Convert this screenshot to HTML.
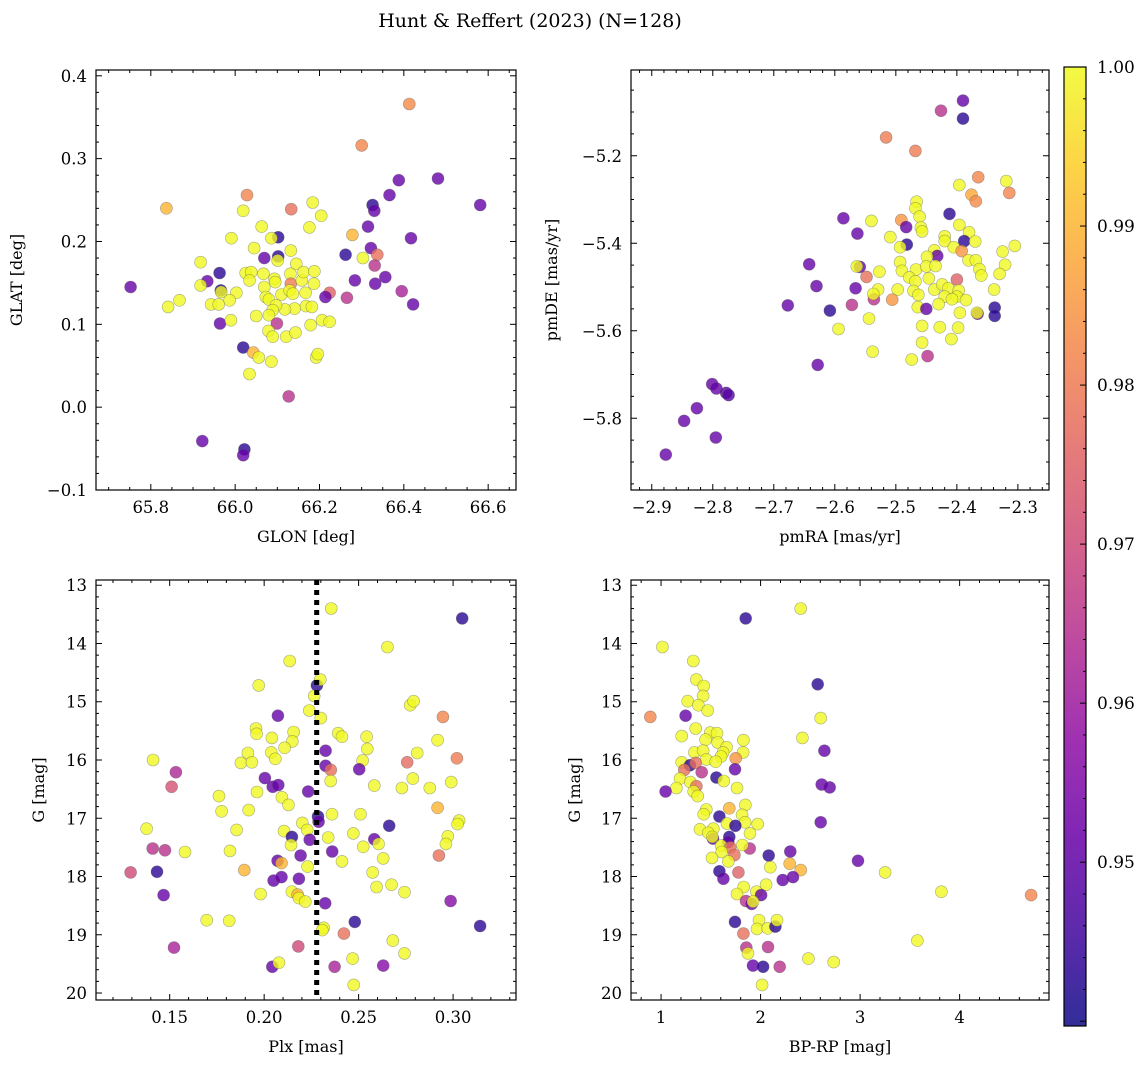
<!DOCTYPE html>
<html><head><meta charset="utf-8">
<style>
body{margin:0;background:#fff;}
svg{display:block;font-family:"DejaVu Serif","Liberation Serif",serif;}
</style></head>
<body>
<svg id="fig" width="1148" height="1067" viewBox="0 0 1148 1067" xmlns="http://www.w3.org/2000/svg">
<rect width="1148" height="1067" fill="#fff"/>
<text x="530" y="27" font-size="19" text-anchor="middle">Hunt &amp; Reffert (2023) (N=128)</text>
</svg>
<script>
// ---------- data: [x, y, membership probability] ----------
const p1 = [[66.413,0.366,.983],[66.30,0.316,.982],[66.388,0.274,.951],[66.481,0.276,.951],[66.366,0.256,.951],[66.581,0.244,.951],[66.326,0.244,.943],[66.330,0.237,.951],[66.028,0.256,.982],[65.837,0.240,.99],[66.133,0.239,.978],[66.184,0.247,1],[66.204,0.231,1],[66.019,0.237,1],[66.176,0.217,1],[66.063,0.218,1],[66.315,0.218,.951],[66.278,0.208,.99],[66.417,0.204,.951],[65.991,0.204,1],[66.102,0.205,.943],[66.086,0.204,1],[66.045,0.192,1],[66.132,0.189,1],[66.322,0.192,.951],[66.262,0.184,.943],[66.337,0.184,.978],[66.303,0.180,1],[66.331,0.171,.965],[66.069,0.180,.951],[66.102,0.182,.943],[66.101,0.177,1],[65.918,0.175,1],[66.145,0.173,1],[65.963,0.162,.943],[65.934,0.152,.951],[65.918,0.147,1],[65.752,0.145,.951],[66.025,0.162,1],[66.038,0.163,1],[66.034,0.153,1],[66.067,0.161,1],[66.093,0.155,1],[66.095,0.151,1],[66.131,0.161,1],[66.132,0.149,.98],[66.158,0.153,1],[66.162,0.163,1],[66.188,0.164,1],[66.187,0.149,1],[65.966,0.141,.943],[65.967,0.139,1],[66.003,0.138,1],[65.868,0.129,1],[65.841,0.121,1],[65.943,0.124,1],[65.961,0.124,1],[65.987,0.129,1],[66.069,0.145,1],[66.073,0.133,1],[66.080,0.130,1],[66.110,0.136,1],[66.129,0.141,1],[66.137,0.137,1],[66.167,0.138,1],[66.168,0.122,1],[66.182,0.121,1],[66.141,0.119,1],[66.118,0.118,1],[66.097,0.123,1],[66.089,0.117,1],[66.080,0.111,1],[66.050,0.110,1],[66.224,0.138,.975],[66.214,0.133,.951],[66.265,0.132,.965],[66.284,0.153,.951],[66.332,0.149,.951],[66.356,0.157,.951],[66.395,0.140,.962],[66.422,0.124,.951],[65.964,0.101,.951],[65.990,0.105,1],[66.099,0.101,.965],[66.079,0.092,1],[66.089,0.085,1],[66.121,0.085,1],[66.143,0.090,1],[66.179,0.099,1],[66.206,0.105,1],[66.224,0.103,1],[66.019,0.072,.943],[66.043,0.066,.99],[66.056,0.060,1],[66.086,0.055,1],[66.192,0.060,1],[66.196,0.064,1],[66.034,0.040,1],[66.127,0.013,.965],[65.922,-0.041,.951],[66.022,-0.051,.943],[66.019,-0.058,.951]];
const p2 = [[-2.390,-5.074,.951],[-2.426,-5.097,.965],[-2.390,-5.115,.943],[-2.516,-5.158,.98],[-2.468,-5.189,.98],[-2.365,-5.249,.982],[-2.319,-5.258,1],[-2.314,-5.285,.982],[-2.396,-5.267,1],[-2.376,-5.289,.988],[-2.369,-5.304,.983],[-2.466,-5.305,1],[-2.468,-5.320,1],[-2.461,-5.339,1],[-2.412,-5.333,.943],[-2.586,-5.343,.951],[-2.540,-5.349,1],[-2.491,-5.347,.985],[-2.483,-5.363,.951],[-2.459,-5.364,1],[-2.457,-5.373,1],[-2.396,-5.358,1],[-2.380,-5.375,1],[-2.563,-5.378,.951],[-2.509,-5.386,1],[-2.420,-5.384,1],[-2.420,-5.395,1],[-2.388,-5.395,.943],[-2.370,-5.396,1],[-2.305,-5.406,1],[-2.482,-5.403,.943],[-2.493,-5.409,1],[-2.405,-5.409,1],[-2.392,-5.418,.985],[-2.437,-5.416,1],[-2.432,-5.429,.951],[-2.449,-5.431,1],[-2.325,-5.419,1],[-2.381,-5.439,1],[-2.369,-5.439,1],[-2.321,-5.449,1],[-2.642,-5.448,.951],[-2.493,-5.443,1],[-2.490,-5.463,1],[-2.467,-5.460,1],[-2.450,-5.453,1],[-2.435,-5.452,1],[-2.559,-5.454,.951],[-2.564,-5.453,1],[-2.527,-5.465,1],[-2.363,-5.459,1],[-2.360,-5.474,1],[-2.330,-5.470,1],[-2.548,-5.477,.978],[-2.478,-5.478,1],[-2.468,-5.487,1],[-2.446,-5.480,1],[-2.400,-5.483,.975],[-2.630,-5.498,.951],[-2.566,-5.503,.951],[-2.529,-5.506,1],[-2.497,-5.506,1],[-2.471,-5.509,1],[-2.463,-5.518,1],[-2.437,-5.506,1],[-2.424,-5.494,1],[-2.414,-5.503,1],[-2.420,-5.522,1],[-2.397,-5.508,1],[-2.400,-5.522,1],[-2.339,-5.506,1],[-2.677,-5.542,.951],[-2.608,-5.554,.943],[-2.572,-5.541,.965],[-2.536,-5.528,.965],[-2.537,-5.516,1],[-2.506,-5.529,.985],[-2.464,-5.546,1],[-2.450,-5.550,.951],[-2.430,-5.539,1],[-2.408,-5.528,1],[-2.385,-5.530,1],[-2.395,-5.559,1],[-2.366,-5.561,.951],[-2.367,-5.559,1],[-2.338,-5.547,.943],[-2.338,-5.566,.943],[-2.594,-5.596,1],[-2.544,-5.572,1],[-2.457,-5.589,1],[-2.428,-5.592,1],[-2.398,-5.593,1],[-2.457,-5.627,1],[-2.409,-5.619,1],[-2.538,-5.648,1],[-2.474,-5.666,1],[-2.448,-5.658,.965],[-2.628,-5.678,.951],[-2.801,-5.722,.951],[-2.794,-5.732,.951],[-2.778,-5.742,.949],[-2.774,-5.747,.949],[-2.826,-5.777,.951],[-2.847,-5.806,.951],[-2.795,-5.844,.951],[-2.877,-5.883,.951]];
const p3 = [[0.2355,13.40,1],[0.3048,13.57,.943],[0.2653,14.06,1],[0.2135,14.30,1],[0.1971,14.72,1],[0.2279,14.72,.943],[0.2297,14.62,1],[0.2265,14.90,1],[0.2239,15.15,1],[0.2300,15.28,1],[0.2073,15.24,.951],[0.2773,15.06,1],[0.2791,14.99,1],[0.2946,15.26,.982],[0.1957,15.46,1],[0.1960,15.55,1],[0.2041,15.62,1],[0.2156,15.52,1],[0.2149,15.68,1],[0.2108,15.79,1],[0.2392,15.54,1],[0.2412,15.60,1],[0.2542,15.60,1],[0.2546,15.81,1],[0.2918,15.66,1],[0.3020,15.97,.98],[0.2810,15.88,1],[0.2325,15.84,.951],[0.1914,15.88,1],[0.2038,15.87,1],[0.2059,15.98,1],[0.1877,16.05,1],[0.1935,16.04,1],[0.1412,16.00,1],[0.2521,16.01,1],[0.2757,16.04,.977],[0.2325,16.10,.951],[0.2353,16.17,.978],[0.2503,16.16,.951],[0.1533,16.21,.963],[0.1510,16.46,.972],[0.2004,16.31,.951],[0.2045,16.46,.951],[0.2075,16.43,.951],[0.2352,16.36,1],[0.2583,16.44,1],[0.2729,16.48,1],[0.2787,16.32,1],[0.2877,16.48,1],[0.2990,16.38,1],[0.2233,16.54,.951],[0.1962,16.55,1],[0.2094,16.64,1],[0.2129,16.77,1],[0.1761,16.62,1],[0.1775,16.88,1],[0.1918,16.86,1],[0.2918,16.82,.99],[0.2285,16.97,.943],[0.2288,17.06,.951],[0.2359,16.93,1],[0.2510,16.93,1],[0.2202,17.08,1],[0.2228,17.20,1],[0.2662,17.13,.943],[0.3032,17.04,1],[0.3024,17.10,1],[0.1378,17.18,1],[0.1854,17.20,1],[0.2105,17.22,1],[0.2147,17.32,.943],[0.2241,17.37,.951],[0.2339,17.33,1],[0.2472,17.26,1],[0.2583,17.36,.951],[0.2606,17.44,1],[0.2524,17.49,1],[0.2972,17.31,1],[0.2962,17.44,1],[0.1410,17.52,.965],[0.1475,17.55,.965],[0.1581,17.58,1],[0.1819,17.56,1],[0.2142,17.46,1],[0.2193,17.64,.951],[0.2360,17.57,.951],[0.2412,17.74,1],[0.2630,17.69,1],[0.2925,17.64,.978],[0.2071,17.73,.951],[0.2092,17.77,.99],[0.2230,17.83,1],[0.1293,17.93,.97],[0.1433,17.92,.943],[0.1895,17.89,.99],[0.2050,18.07,.951],[0.2092,18.01,.951],[0.2184,18.04,.951],[0.2574,17.93,1],[0.2595,18.18,1],[0.2674,18.14,1],[0.2743,18.27,1],[0.1468,18.32,.951],[0.1981,18.30,1],[0.2147,18.26,1],[0.2177,18.31,.99],[0.2184,18.37,1],[0.2218,18.43,1],[0.2323,18.46,.951],[0.2987,18.42,.956],[0.1696,18.75,1],[0.1815,18.76,1],[0.2480,18.78,.943],[0.3143,18.85,.943],[0.2315,18.88,1],[0.2308,18.92,1],[0.2422,18.98,.978],[0.2681,19.10,1],[0.2743,19.32,1],[0.1523,19.22,.962],[0.2181,19.20,.97],[0.2468,19.41,1],[0.2043,19.55,.951],[0.2078,19.48,1],[0.2373,19.55,.962],[0.2630,19.53,.956],[0.2474,19.86,1]];
const p4 = [[2.403,13.40,1],[1.850,13.57,.943],[1.013,14.06,1],[1.324,14.30,1],[1.355,14.62,1],[1.428,14.73,1],[1.422,14.90,1],[1.268,14.99,1],[1.375,15.06,1],[1.469,15.15,1],[2.574,14.70,.943],[0.892,15.26,.982],[1.247,15.24,.951],[2.604,15.28,1],[1.348,15.46,1],[1.207,15.59,1],[1.495,15.53,1],[1.562,15.54,1],[1.448,15.65,1],[1.569,15.70,1],[1.659,15.78,1],[1.827,15.66,1],[2.420,15.62,1],[2.641,15.84,.951],[1.335,15.87,1],[1.422,15.84,1],[1.623,15.87,1],[1.603,15.94,1],[1.455,15.99,1],[1.549,16.03,1],[1.824,15.87,1],[1.750,15.97,.985],[1.207,16.04,1],[1.291,16.09,.943],[1.348,16.05,.978],[1.234,16.17,.978],[1.408,16.21,.965],[1.743,16.16,.951],[1.556,16.30,.943],[1.629,16.36,1],[1.190,16.32,1],[1.154,16.48,1],[1.294,16.38,1],[1.355,16.45,.978],[1.328,16.54,1],[1.368,16.62,1],[1.046,16.54,.951],[1.763,16.48,1],[2.614,16.42,.951],[2.695,16.47,.951],[1.455,16.85,1],[1.428,16.93,1],[1.686,16.83,.99],[1.847,16.77,1],[1.814,16.94,1],[1.844,17.07,1],[1.971,17.10,1],[1.586,16.97,.943],[1.663,17.09,1],[1.747,17.13,.943],[2.604,17.07,.951],[1.391,17.19,1],[1.525,17.18,1],[1.475,17.25,1],[1.522,17.35,.951],[1.686,17.32,.943],[1.676,17.41,.951],[1.515,17.32,1],[1.894,17.26,1],[1.603,17.47,1],[1.696,17.50,.978],[1.891,17.52,.965],[1.817,17.46,1],[1.737,17.63,.978],[1.609,17.58,1],[1.512,17.68,1],[1.676,17.74,1],[2.082,17.64,.943],[2.299,17.57,.951],[2.098,17.84,1],[2.293,17.78,.99],[2.403,17.89,.99],[2.979,17.73,.951],[3.251,17.93,1],[1.586,17.91,.943],[1.626,18.04,.951],[1.777,17.93,.975],[2.222,18.06,.951],[2.326,18.01,.951],[2.055,18.14,1],[1.830,18.18,1],[1.763,18.30,1],[1.958,18.26,1],[2.005,18.32,.951],[1.854,18.42,.965],[1.911,18.47,.951],[1.924,18.43,1],[3.817,18.26,1],[4.718,18.32,.982],[1.743,18.78,.943],[1.984,18.75,1],[1.964,18.90,1],[2.072,18.89,1],[2.149,18.86,.943],[2.165,18.75,1],[1.827,18.98,.978],[3.576,19.10,1],[1.857,19.22,.965],[1.874,19.32,1],[2.075,19.21,.965],[2.480,19.41,1],[2.735,19.47,1],[1.924,19.53,.951],[2.025,19.55,.943],[2.192,19.55,.965],[2.015,19.86,1]];
const plxCut = 0.2278;
const cbarTicks = [0.95,0.96,0.97,0.98,0.99,1.00];

// ---------- helpers ----------
const NS = "http://www.w3.org/2000/svg";
const svg = document.getElementById('fig');
function mk(tag, attrs, parent){ const e=document.createElementNS(NS,tag); for(const k in attrs) e.setAttribute(k,attrs[k]); (parent||svg).appendChild(e); return e; }
const VMIN=0.9397, VMAX=1.0;
const PL=["#0d0887","#41049d","#6a00a8","#8f0da4","#b12a90","#cc4778","#e16462","#f2844b","#fca636","#fcce25","#f0f921"];
function hex(h){return [parseInt(h.substr(1,2),16),parseInt(h.substr(3,2),16),parseInt(h.substr(5,2),16)];}
function plasma(t){ t=Math.max(0,Math.min(1,t)); const s=t*10, i=Math.min(9,Math.floor(s)), f=s-i; const a=hex(PL[i]), b=hex(PL[i+1]); return "rgb("+a.map((v,k)=>Math.round(v+(b[k]-v)*f)).join(",")+")"; }
function cmap(v){ return plasma((v-VMIN)/(VMAX-VMIN)); }
function fmt(v,d){ const s=Math.abs(v).toFixed(d); return (v< -1e-9? "\u2212":"")+s; }

function panel(cfg){
  const g = mk('g',{});  
  const {L,R,T,B,xmin,xmax,ymin,ymax,inv} = cfg;
  const sx = v=> L+(v-xmin)/(xmax-xmin)*(R-L);
  const sy = v=> inv ? T+(v-ymin)/(ymax-ymin)*(B-T) : B-(v-ymin)/(ymax-ymin)*(B-T);
  const pg = mk('g',{},g);  
  cfg.data.forEach(d=>{
    const c = mk('circle',{cx:sx(d[0]).toFixed(1),cy:sy(d[1]).toFixed(1),r:6,fill:cmap(d[2]),'fill-opacity':0.8,stroke:'#555','stroke-opacity':0.5,'stroke-width':0.6},pg);
    
    
  });
  if(cfg.vline!==undefined){
    const l=mk('line',{x1:sx(cfg.vline),x2:sx(cfg.vline),y1:T,y2:B,stroke:'#000','stroke-width':5,'stroke-dasharray':'5,5'},g);
     
  }
  const fr=mk('rect',{x:L,y:T,width:R-L,height:B-T,fill:'none',stroke:'#000','stroke-width':1.2},g);
   
  const tg=mk('g',{stroke:'#000','stroke-width':1},g);
  const xs=Math.ceil(xmin/cfg.xmin_step-1e-6), xe=Math.floor(xmax/cfg.xmin_step+1e-6);
  for(let i=xs;i<=xe;i++){ const v=i*cfg.xmin_step; const maj=Math.abs(v/cfg.xmaj-Math.round(v/cfg.xmaj))<1e-6; const len=maj?6:3; const x=sx(v);
    mk('line',{x1:x,x2:x,y1:B,y2:B-len},tg); mk('line',{x1:x,x2:x,y1:T,y2:T+len},tg);
    if(maj){ const t=mk('text',{x:x,y:B+23,'font-size':16.5,'text-anchor':'middle',stroke:'none',fill:'#000'},g); t.textContent=fmt(v,cfg.xd);
        } }
  const ys=Math.ceil(ymin/cfg.ymin_step-1e-6), ye=Math.floor(ymax/cfg.ymin_step+1e-6);
  for(let i=ys;i<=ye;i++){ const v=i*cfg.ymin_step; const maj=Math.abs(v/cfg.ymaj-Math.round(v/cfg.ymaj))<1e-6; const len=maj?6:3; const y=sy(v);
    mk('line',{x1:L,x2:L+len,y1:y,y2:y},tg); mk('line',{x1:R,x2:R-len,y1:y,y2:y},tg);
    if(maj){ const t=mk('text',{x:L-9,y:y+6,'font-size':16.5,'text-anchor':'end',stroke:'none',fill:'#000'},g); t.textContent=fmt(v,cfg.yd);
        } }
  const xl=mk('text',{x:(L+R)/2,y:B+52,'font-size':16,'text-anchor':'middle'},g); xl.textContent=cfg.xlabel;
   
  const yl=mk('text',{x:cfg.ylx,y:(T+B)/2,'font-size':16,'text-anchor':'middle',transform:'rotate(-90 '+cfg.ylx+' '+(T+B)/2+')'},g); yl.textContent=cfg.ylabel;
   
}

panel({name:'glon-glat-panel',data:p1,L:96,R:516,T:70,B:490,xmin:65.67,xmax:66.666,ymin:-0.1,ymax:0.407,xmaj:0.2,xmin_step:0.05,ymaj:0.1,ymin_step:0.02,xd:1,yd:1,xlabel:'GLON [deg]',ylabel:'GLAT [deg]',ylx:22});
panel({name:'proper-motion-panel',data:p2,L:631,R:1049,T:70,B:490,xmin:-2.934,xmax:-2.249,ymin:-5.964,ymax:-5.004,xmaj:0.1,xmin_step:0.02,ymaj:0.2,ymin_step:0.05,xd:1,yd:1,xlabel:'pmRA [mas/yr]',ylabel:'pmDE [mas/yr]',ylx:557});
panel({name:'parallax-mag-panel',data:p3,L:96,R:516,T:580,B:1000,xmin:0.111,xmax:0.3333,ymin:12.91,ymax:20.12,inv:true,xmaj:0.05,xmin_step:0.01,ymaj:1,ymin_step:0.2,xd:2,yd:0,xlabel:'Plx [mas]',ylabel:'G [mag]',ylx:44,vline:plxCut});
panel({name:'cmd-panel',data:p4,L:631,R:1049,T:580,B:1000,xmin:0.698,xmax:4.898,ymin:12.91,ymax:20.12,inv:true,xmaj:1,xmin_step:0.2,ymaj:1,ymin_step:0.2,xd:0,yd:0,xlabel:'BP-RP [mag]',ylabel:'G [mag]',ylx:580});

(function(){
  const cg=mk('g',{});  
  const X0=1064,X1=1086,T=67,B=1026;
  const defs=mk('defs',{},cg); const lg=mk('linearGradient',{id:'cb',x1:0,y1:1,x2:0,y2:0},defs);
  for(let i=0;i<=20;i++){ mk('stop',{offset:i/20,'stop-color':plasma(i/20),'stop-opacity':0.85},lg); }
  mk('rect',{x:X0,y:T,width:X1-X0,height:B-T,fill:'url(#cb)',stroke:'#000','stroke-width':1.2},cg);
  const sy=v=>B-(v-VMIN)/(VMAX-VMIN)*(B-T);
  for(let i=470;i<=500;i++){ const v=i*0.002; if(v<VMIN-1e-9) continue; const maj=i%5===0; const y=sy(v);
    mk('line',{x1:X1,x2:X1-(maj?6:3),y1:y,y2:y,stroke:'#000','stroke-width':1},cg); }
  cbarTicks.forEach(v=>{ const t=mk('text',{x:X1+11,y:sy(v)+6,'font-size':17},cg); t.textContent=v.toFixed(2);
      });
})();
</script>
</body></html>
